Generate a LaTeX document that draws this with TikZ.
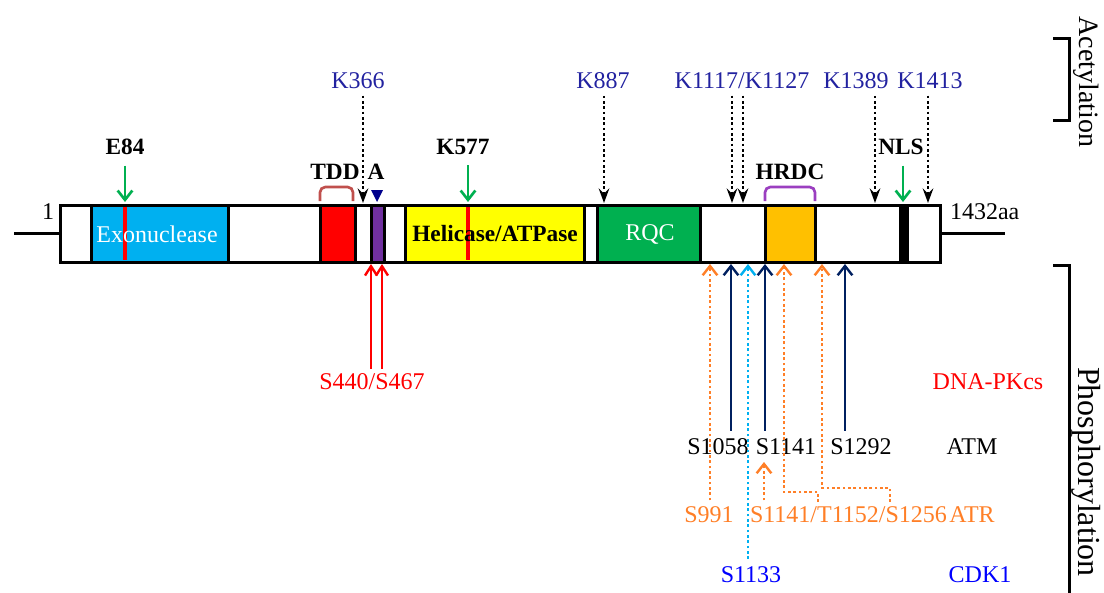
\documentclass[tikz,border=0pt]{standalone}
\usepackage{fontspec}
\setmainfont{Liberation Serif}
\usetikzlibrary{arrows.meta}
\definecolor{exoblue}{HTML}{00B0F0}
\definecolor{tddred}{HTML}{FF0000}
\definecolor{apurple}{HTML}{7030A0}
\definecolor{helyellow}{HTML}{FFFF00}
\definecolor{rqcgreen}{HTML}{00B050}
\definecolor{hrdcorange}{HTML}{FFC000}
\definecolor{arrgreen}{HTML}{00B050}
\definecolor{tddbr}{HTML}{C0504D}
\definecolor{hrdcbr}{HTML}{9B3FC0}
\definecolor{acblue}{HTML}{2222A0}
\definecolor{trinavy}{HTML}{00008C}
\definecolor{atmnavy}{HTML}{002060}
\definecolor{atrorange}{HTML}{FF7F27}
\definecolor{cdkcyan}{HTML}{00B0F0}
\definecolor{cdkblue}{HTML}{0000FF}
\begin{document}
\begin{tikzpicture}[x=0.75pt,y=-0.75pt,
  font=\fontsize{18}{20}\selectfont,
  seg/.style={draw=black,line width=2.25pt},
  lbl/.style={inner sep=0pt,outer sep=0pt},
  bl/.style={lbl,font=\fontsize{17.5}{20}\selectfont\bfseries},
  garr/.style={draw=arrgreen,line width=2pt,-{Straight Barb[length=7pt,width=11pt]}},
  darr/.style={draw=black,line width=2pt,dash pattern=on 2pt off 2pt,
    -{Stealth[length=11pt,width=8pt,inset=4pt]}},
  parr/.style={line width=1.8pt,-{Straight Barb[length=7pt,width=11pt]}},
  rarr/.style={draw=red,line width=1.8pt,-{Straight Barb[length=7pt,width=9pt]}},
  dotl/.style={dash pattern=on 2pt off 2pt},
  brk/.style={line width=2.25pt},
  bkt/.style={line width=2pt,rounded corners=4pt}]
\useasboundingbox (0,0) rectangle (1104,593);
% backbone lines
\coordinate (lend) at (14,233);
\coordinate (lbar) at (60,233);
\coordinate (rbar) at (940,233);
\coordinate (rend) at (1005,233);
\draw[brk] (lend) -- (lbar);
\draw[brk] (rbar) -- (rend);
% bar segments
\foreach \a/\b/\c in {60/91/white,91/228/exoblue,228/320/white,320/355/tddred,
  355/371/white,371/384/apurple,384/405/white,405/584/helyellow,584/597/white,
  597/700/rqcgreen,700/765/white,765/815/hrdcorange,815/900/white,900/907/black,
  907/940/white}
  \draw[seg,fill=\c] (\a,205) rectangle (\b,262);
\fill[red] (123,207) rectangle (127,260);
\fill[red] (466,207) rectangle (470,260);
% domain labels
\node[lbl,text=white] (exo) at (157,234) {Exonuclease};
\node[bl] (hel) at (495,234) {Helicase/ATPase};
\node[lbl,text=white] (rqc) at (650,234) {RQC};
\node[lbl,anchor=east] (n1) at (54,212) {1};
\node[lbl,anchor=west] (n1432) at (950,212) {1432aa};
% top domain marks
\node[bl] (tdd) at (335,172) {TDD};
\node[bl] (dA) at (376,172) {A};
\node[bl] (hrdc) at (790,172) {HRDC};
\draw[bkt,draw=tddbr] (320,201) -- (320,187) -- (353,187) -- (353,201);
\draw[bkt,draw=hrdcbr] (765,201) -- (765,187) -- (815,187) -- (815,201);
\fill[trinavy] (371,190) -- (383,190) -- (377,202) -- cycle;
% green arrows
\node[bl] (e84) at (125,147) {E84};
\node[bl] (k577) at (463,147) {K577};
\node[bl] (nls) at (901,147) {NLS};
\coordinate (pE84) at (125,202);
\coordinate (pK577) at (468,202);
\coordinate (pNLS) at (903,202);
\draw[garr] ([yshift=-8pt]e84.south -| pE84) -- (pE84);
\draw[garr] ([yshift=-8pt]k577.south -| pK577) -- (pK577);
\draw[garr] ([yshift=-8pt]nls.south -| pNLS) -- (pNLS);
% acetylation
\begin{scope}[every node/.style={lbl,text=acblue}]
\node (k366) at (358,81) {K366};
\node (k887) at (603,81) {K887};
\node (k1117) at (742,81) {K1117/K1127};
\node (k1389) at (856,81) {K1389};
\node (k1413) at (930,81) {K1413};
\end{scope}
\coordinate (a366) at (363,203);
\coordinate (a887) at (604,203);
\coordinate (a1117) at (732,203);
\coordinate (a1127) at (743,203);
\coordinate (a1389) at (875,203);
\coordinate (a1413) at (928,203);
\draw[darr] ([yshift=-5pt]k366.south -| a366) -- (a366);
\draw[darr] ([yshift=-5pt]k887.south -| a887) -- (a887);
\draw[darr] ([yshift=-5pt]k1117.south -| a1117) -- (a1117);
\draw[darr] ([yshift=-5pt]k1117.south -| a1127) -- (a1127);
\draw[darr] ([yshift=-5pt]k1389.south -| a1389) -- (a1389);
\draw[darr] ([yshift=-5pt]k1413.south -| a1413) -- (a1413);
% DNA-PKcs
\node[lbl,text=red] (s440) at (372,382) {S440/S467};
\coordinate (p440) at (371,264);
\coordinate (p467) at (382,264);
\draw[rarr] ([yshift=4pt]s440.north -| p440) -- (p440);
\draw[rarr] ([yshift=4pt]s440.north -| p467) -- (p467);
% phosphorylation labels
\node[lbl,text=red] (dnapk) at (988,382) {DNA-PKcs};
\node[lbl] (s1058) at (718,447) {S1058};
\node[lbl] (s1141) at (786,447) {S1141};
\node[lbl] (s1292) at (861,447) {S1292};
\node[lbl] (atm) at (972,447) {ATM};
\node[lbl,text=atrorange] (s991) at (709,515) {S991};
\node[lbl,text=atrorange,anchor=west] (s1141b) at (750,515) {S1141/T1152/S1256};
\node[lbl,text=atrorange] (atr) at (972,515) {ATR};
\node[lbl,text=cdkblue] (s1133) at (751,575) {S1133};
\node[lbl,text=cdkblue] (cdk1) at (980,575) {CDK1};
% ATM arrows
\coordinate (m1058) at (731,264);
\coordinate (m1141) at (765,264);
\coordinate (m1292) at (845,264);
\draw[parr,draw=atmnavy] ([yshift=6pt]s1058.north -| m1058) -- (m1058);
\draw[parr,draw=atmnavy] ([yshift=6pt]s1141.north -| m1141) -- (m1141);
\draw[parr,draw=atmnavy] ([yshift=6pt]s1292.north -| m1292) -- (m1292);
% CDK1 arrow
\coordinate (c1133) at (748,264);
\draw[parr,dotl,draw=cdkcyan] ([yshift=6pt]s1133.north -| c1133) -- (c1133);
% ATR arrows
\coordinate (r991) at (710,264);
\coordinate (r1152) at (784,264);
\coordinate (r1256) at (822,264);
\coordinate (t1152) at (818,502);
\coordinate (t1256) at (890,502);
\coordinate (u1141) at (764,462);
\draw[parr,dotl,draw=atrorange] ([yshift=5pt]s991.north -| r991) -- (r991);
\draw[parr,dotl,draw=atrorange] (t1152) -- (818,492) -- (784,492) -- (r1152);
\draw[parr,dotl,draw=atrorange] (t1256) -- (890,488) -- (822,488) -- (r1256);
\draw[parr,dotl,draw=atrorange] ([yshift=5pt]s1141b.north -| u1141) -- (u1141);
% side brackets
\draw[brk] (1053,38) -- (1069,38) -- (1069,120) -- (1053,120);
\node[lbl,rotate=-90,font=\fontsize{21}{22}\selectfont] (acet) at (1086,82) {Acetylation};
\draw[brk] (1053,265) -- (1069,265) -- (1069,600);
\node[lbl,rotate=-90,font=\fontsize{24}{26}\selectfont] (phos) at (1086,472) {Phosphorylation};
\end{tikzpicture}
\end{document}
